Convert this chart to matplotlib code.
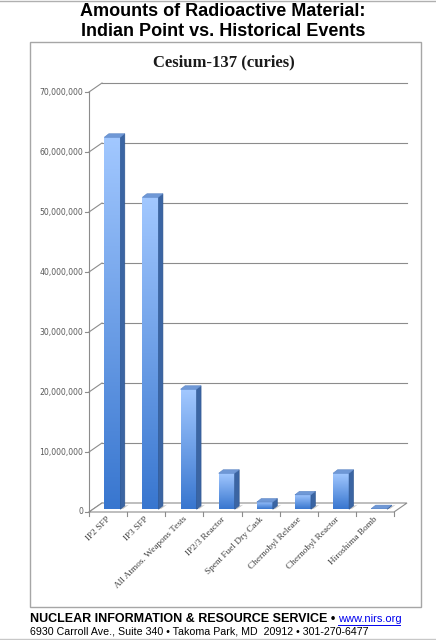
import numpy as np
import matplotlib
matplotlib.use("Agg")
import matplotlib.pyplot as plt
from matplotlib.patches import Polygon, Rectangle
from matplotlib.colors import LinearSegmentedColormap

# ---- data ----
categories = ["IP2 SFP", "IP3 SFP", "All Atmos. Weapons Tests", "IP2/3 Reactor",
              "Spent Fuel Dry Cask", "Chernobyl Release", "Chernobyl Reactor",
              "Hiroshima Bomb"]
values = [62000000, 52000000, 20000000, 6000000, 1200000, 2400000, 6000000, 100000]
yticks = [0, 10000000, 20000000, 30000000, 40000000, 50000000, 60000000, 70000000]
ytick_labels = ["0", "10,000,000", "20,000,000", "30,000,000", "40,000,000",
                "50,000,000", "60,000,000", "70,000,000"]

W, H = 436, 640
fig = plt.figure(figsize=(W / 100, H / 100), dpi=100)
fig.patch.set_facecolor("white")

def fx(px):
    return px / W

def fy(py):
    return 1 - py / H

# page edge lines
fig.lines.append(plt.Line2D([0, 1], [fy(0.5), fy(0.5)], transform=fig.transFigure,
                            color="#b0b0b0", lw=1))
fig.lines.append(plt.Line2D([0, 1], [fy(638.5), fy(638.5)], transform=fig.transFigure,
                            color="#c8c8c8", lw=1))

# Titles
fig.text(fx(223), fy(12), "Amounts of Radioactive Material:", ha="center", va="center",
         fontsize=13, fontweight="bold", family="Liberation Sans")
fig.text(fx(223), fy(31), "Indian Point vs. Historical Events", ha="center", va="center",
         fontsize=13, fontweight="bold", family="Liberation Sans")

# Chart box
fig.patches.append(Rectangle((fx(30), fy(607)), fx(391), (607 - 42) / H,
                             transform=fig.transFigure, fill=False,
                             edgecolor="#a6a6a6", linewidth=1.0))
fig.text(fx(224), fy(62), "Cesium-137 (curies)", ha="center", va="center",
         fontsize=12, fontweight="bold", family="Liberation Serif", color="#1a1a1a")

# Front plane axes
ax = fig.add_axes([fx(89), fy(512), (394 - 89) / W, (512 - 92) / H])
ax.set_xlim(-0.5, len(categories) - 0.5)
ax.set_ylim(0, 70000000)
ax.axis("off")

# pixel -> data conversions
px_x = (len(categories)) / (394 - 89)
px_y = 70000000 / (512 - 92)

DX, DY = 13, 9  # depth of whole chart in pixels
ddx, ddy = DX * px_x, DY * px_y
x0, x1 = -0.5, len(categories) - 0.5

grid_c = "#8c8c8c"
# floor
ax.add_patch(Polygon([(x0, 0), (x1, 0), (x1 + ddx, ddy), (x0 + ddx, ddy)],
                     closed=True, facecolor="white", edgecolor=grid_c,
                     linewidth=0.8, clip_on=False, zorder=1))
# gridlines on back wall + side wall diagonals + ticks
for v, lab in zip(yticks, ytick_labels):
    if v > 0:
        ax.plot([x0 + ddx, x1 + ddx], [v + ddy, v + ddy], color=grid_c, lw=0.8,
                clip_on=False, zorder=0.5)
    ax.plot([x0, x0 + ddx], [v, v + ddy], color=grid_c, lw=0.8, clip_on=False, zorder=0.5)
    ax.plot([x0 - 4 * px_x, x0], [v, v], color=grid_c, lw=0.8, clip_on=False)
    ax.text(x0 - 6 * px_x, v, lab, ha="right", va="center", fontsize=5.6,
            color="#595959", family="DejaVu Sans")
ax.plot([x0, x0], [0, 70000000], color=grid_c, lw=0.8, clip_on=False, zorder=0.6)

# category ticks
for i in range(len(categories) + 1):
    xb = x0 + i
    ax.plot([xb, xb], [0, -4 * px_y], color=grid_c, lw=0.8, clip_on=False)

# bars
cmap_front = LinearSegmentedColormap.from_list("f", ["#3876cf", "#a2c8ff"])
bw = 0.42
mx, my = 0.5 * ddx, 0.5 * ddy    # bars sit at mid depth
bdx, bdy = 4.5 * px_x, 3.5 * px_y  # bar depth
grad = np.linspace(0, 1, 256).reshape(-1, 1)
for i, v in enumerate(values):
    left = i - bw / 2 + mx - 0.5 * bdx
    right = left + bw
    base = my - 0.5 * bdy
    top = base + v
    # shadow on floor
    ax.add_patch(Polygon([(right, base), (right + 3 * px_x, base + 0.5 * px_y),
                          (right + bdx + 4 * px_x, base + bdy + 1 * px_y),
                          (right + bdx, base + bdy)],
                         closed=True, facecolor="#c8c8c8", edgecolor="none",
                         zorder=2, clip_on=False))
    # front face gradient
    ax.imshow(grad, extent=[left, right, base, top], origin="lower",
              cmap=cmap_front, aspect="auto", zorder=3, clip_on=False,
              interpolation="bilinear")
    # side face
    ax.add_patch(Polygon([(right, base), (right + bdx, base + bdy),
                          (right + bdx, top + bdy), (right, top)],
                         closed=True, facecolor="#3b65a3", edgecolor="#2d558f",
                         linewidth=0.4, zorder=3, clip_on=False))
    # top face
    ax.add_patch(Polygon([(left, top), (right, top), (right + bdx, top + bdy),
                          (left + bdx, top + bdy)],
                         closed=True, facecolor="#6f98d6", edgecolor="#5a84c4",
                         linewidth=0.4, zorder=3.5, clip_on=False))

ax.set_xlim(x0, x1)
ax.set_ylim(0, 70000000)

# category labels
for i, lab in enumerate(categories):
    ax.text(i + 0.03, -6 * px_y, lab, rotation=45, rotation_mode="anchor",
            ha="right", va="center", fontsize=6.7, family="Liberation Serif",
            color="#404040")

# footer
fig.text(fx(30), fy(619), "NUCLEAR INFORMATION & RESOURCE SERVICE \u2022 ",
         ha="left", va="center", fontsize=9, fontweight="bold",
         family="Liberation Sans")
fig.text(fx(338), fy(619), "www.nirs.org", ha="left", va="center", fontsize=8,
         family="Liberation Sans", color="#0000ee")
fig.lines.append(plt.Line2D([fx(338), fx(400)], [fy(625), fy(625)],
                            transform=fig.transFigure, color="#0000ee", lw=0.7))
fig.text(fx(30), fy(632),
         "6930 Carroll Ave., Suite 340 \u2022 Takoma Park, MD  20912 \u2022 301-270-6477",
         ha="left", va="center", fontsize=7.7, family="Liberation Sans")

fig.savefig("out.png", dpi=100)
